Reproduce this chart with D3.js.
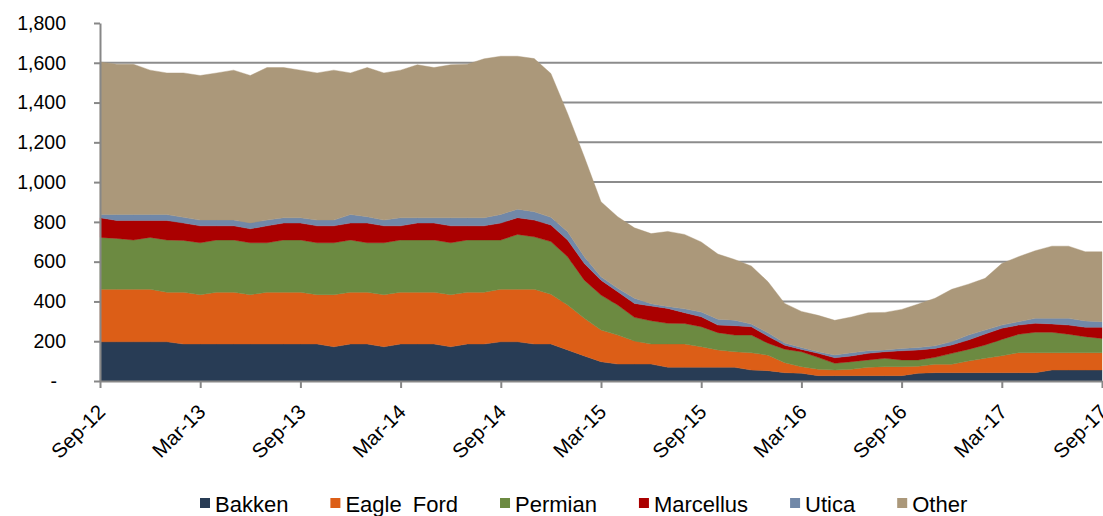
<!DOCTYPE html>
<html>
<head>
<meta charset="utf-8">
<script src="https://d3js.org/d3.v7.min.js"></script>
<style>
  body { margin: 0; background: #fff; }
  text { font-family: "Liberation Sans", Arial, sans-serif; }
</style>
</head>
<body>
<div id="chart"></div>
<script>
// monthly rig counts, Sep-12 .. Sep-17
var bakken = [197,197,197,197,197,186,186,186,186,186,186,186,186,186,172,186,186,172,186,186,
  186,172,186,186,197,197,186,186,156,126,97,85,85,85,69,69,69,69,69,55,
  52,42,39,27,27,27,27,27,27,39,42,42,42,42,42,42,42,55,55,55,55];
var eagleFord = [264,264,264,264,249,260,248,260,260,248,260,260,260,248,262,260,260,262,260,260,
  260,262,260,260,264,264,275,250,226,189,159,146,116,101,117,117,103,87,78,87,
  78,50,33,32,28,32,42,45,45,35,42,42,58,72,85,100,100,87,87,87,87];
var permian = [261,256,248,261,263,261,261,263,263,261,249,263,263,261,261,263,249,261,263,263,
  263,261,263,263,248,276,264,265,243,192,176,151,119,117,104,103,101,87,84,89,
  60,68,75,60,34,38,37,42,34,32,35,55,59,67,82,93,103,103,93,81,72];
var marcellus = [99,90,98,85,98,87,85,71,71,70,85,85,85,85,85,85,99,85,71,85,
  85,85,71,71,85,84,84,83,84,84,75,67,70,74,75,54,50,38,47,42,
  35,20,12,20,28,29,33,33,46,50,45,42,47,55,56,46,45,42,46,47,56];
var utica = [16,30,30,30,30,29,29,29,29,30,29,27,27,29,29,43,32,29,41,27,
  27,41,41,41,43,43,42,39,41,34,17,17,26,12,10,20,24,30,28,13,
  17,11,10,8,14,16,13,9,12,13,13,17,25,20,16,17,25,28,34,32,28];
var other = [767,756,756,726,712,726,727,740,754,741,767,755,742,740,754,712,750,740,742,769,
  755,769,772,799,796,769,770,723,595,502,377,360,354,352,377,374,352,327,305,292,
  257,199,181,183,174,180,191,189,196,218,239,263,256,260,310,327,340,363,363,348,352];

var seriesNames = ["Bakken", "Eagle Ford", "Permian", "Marcellus", "Utica", "Other"];
var seriesValues = [bakken, eagleFord, permian, marcellus, utica, other];
var colors = ["#283c55", "#dc5e17", "#6c8a41", "#aa0000", "#7188a8", "#ab987a"];

var xTickLabels = ["Sep-12","Mar-13","Sep-13","Mar-14","Sep-14","Mar-15",
  "Sep-15","Mar-16","Sep-16","Mar-17","Sep-17"];
var yTicks = [0,200,400,600,800,1000,1200,1400,1600,1800];

var width = 1103, height = 516;

var svg = d3.select("#chart")
  .append("svg")
  .attr("width", width)
  .attr("height", height);

// build rows for the stack
var data = [];
for (var i = 0; i < bakken.length; i++) {
  var row = {month: i};
  seriesNames.forEach(function(name, k){ row[name] = seriesValues[k][i]; });
  data.push(row);
}

var x = d3.scaleLinear()
  .domain([0, 60])
  .range([100, 1102]);

var y = d3.scaleLinear()
  .domain([0, 1800])
  .range([381, 23]);

var color = d3.scaleOrdinal()
  .domain(seriesNames)
  .range(colors);

// gridlines (behind the areas)
svg.append("g")
  .selectAll("line")
  .data(yTicks.filter(function(d){ return d > 0 && d < 1800; }))
  .join("line")
    .attr("x1", x(0))
    .attr("x2", x(60))
    .attr("y1", d => y(d))
    .attr("y2", d => y(d))
    .attr("stroke", "#8c8c8c")
    .attr("stroke-width", 2);

var stackedData = d3.stack()
  .keys(seriesNames)
  (data);

var area = d3.area()
  .x(d => x(d.data.month))
  .y0(d => y(d[0]))
  .y1(d => y(d[1]));

svg.append("g")
  .selectAll("path")
  .data(stackedData)
  .join("path")
    .attr("d", area)
    .attr("fill", d => color(d.key))
    .attr("stroke", d => color(d.key))
    .attr("stroke-width", 0.4);

// Y axis
var yAxis = svg.append("g")
  .attr("transform", "translate(" + x(0) + ",0)")
  .call(d3.axisLeft(y)
    .tickValues(yTicks)
    .tickSize(6)
    .tickSizeOuter(0)
    .tickPadding(28)
    .tickFormat(d => d === 0 ? "-" : d3.format(",")(d)));

yAxis.selectAll("text")
  .style("font-size", "19.5px")
  .attr("fill", "#000")
  .attr("x", d => d === 0 ? -43 : -34);

// X axis
var xAxis = svg.append("g")
  .attr("transform", "translate(0," + y(0) + ")")
  .call(d3.axisBottom(x)
    .tickValues(d3.range(0, 61, 6))
    .tickSize(7)
    .tickSizeOuter(0)
    .tickFormat((d, i) => xTickLabels[i]));

xAxis.selectAll("text")
  .attr("x", 0)
  .attr("y", 0)
  .attr("dy", "0.35em")
  .attr("transform", "translate(1,27)rotate(-45)")
  .style("text-anchor", "end")
  .style("font-size", "20.5px")
  .attr("fill", "#000");

svg.selectAll(".domain, .tick line")
  .attr("stroke", "#878787")
  .attr("stroke-width", 2);

// legend
var legend = svg.append("g");
var lx = 200;
seriesNames.forEach(function(name, k){
  legend.append("rect")
    .attr("x", lx)
    .attr("y", 498)
    .attr("width", 10)
    .attr("height", 10)
    .attr("fill", colors[k]);
  var t = legend.append("text")
    .attr("x", lx + 15)
    .attr("y", 512)
    .style("font-size", "22px")
    .style("word-spacing", name == "Eagle Ford" ? "5px" : "0px")
    .attr("fill", "#000")
    .text(name);
  lx = lx + 15 + t.node().getComputedTextLength() + 42;
});
</script>
</body>
</html>
